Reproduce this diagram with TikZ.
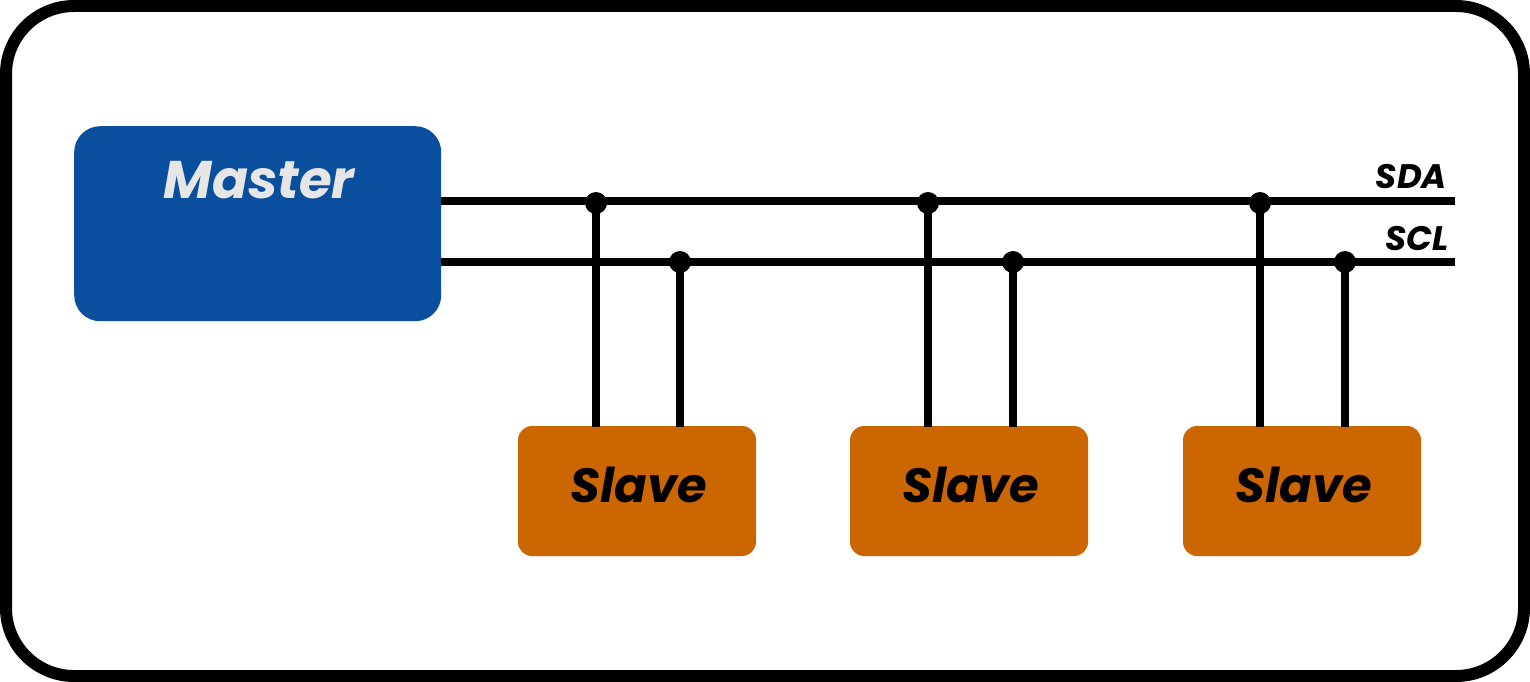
\documentclass[tikz,border=0pt]{standalone}
\usepackage{fontspec}
\setmainfont{Poppins}
\begin{document}
\begin{tikzpicture}[x=1pt,y=-1pt,
  bus/.style={line width=8.5pt},
  dot/.style={circle,fill=black,inner sep=0pt,minimum size=22pt},
  masterbox/.style={fill=masterblue,rounded corners=26pt,draw=none},
  slavebox/.style={fill=slaveorange,rounded corners=14pt,draw=none,minimum width=238pt,minimum height=130pt},
  mlbl/.style={font=\fontsize{53}{56}\selectfont\bfseries\itshape,inner sep=0pt},
  slbl/.style={font=\fontsize{48}{52}\selectfont\bfseries\itshape,inner sep=0pt},
  buslbl/.style={font=\fontsize{34}{36}\selectfont\bfseries\itshape,inner sep=0pt,anchor=base east}]
\definecolor{masterblue}{HTML}{0A4E9E}
\definecolor{slaveorange}{HTML}{CC6600}
\definecolor{mastertext}{HTML}{E6E6E6}
\useasboundingbox (0,0) rectangle (1530,682);
\draw[line width=12pt,rounded corners=68pt] (6,6) rectangle (1524,676);
% master
\node[masterbox,minimum width=367pt,minimum height=195pt,anchor=north west] (master) at (74,126) {};
\node[mlbl,text=mastertext] (mtext) at (259,180) {Master};
% bus ends
\coordinate (sdaS) at (441,201);
\coordinate (sdaE) at (1455,201);
\coordinate (sclS) at (441,262);
\coordinate (sclE) at (1455,262);
\draw[bus] (sdaS) -- (sdaE);
\draw[bus] (sclS) -- (sclE);
\node[buslbl] (sda) at (1447,188) {SDA};
\node[buslbl] (scl) at (1449,250) {SCL};
% slaves
\foreach \i/\x/\a/\b in {1/637/596/680, 2/969/928/1013, 3/1302/1260/1345}{
  \node[slavebox] (s\i) at (\x,491) {};
  \node[slbl,text=black] (st\i) at (\x+2,485) {Slave};
  \node[dot] (d\i) at (\a,203) {};
  \node[dot] (c\i) at (\b,262) {};
  \draw[line width=8pt] (d\i.center) -- (\a,427);
  \draw[line width=8pt] (c\i.center) -- (\b,427);
}
\end{tikzpicture}
\end{document}
